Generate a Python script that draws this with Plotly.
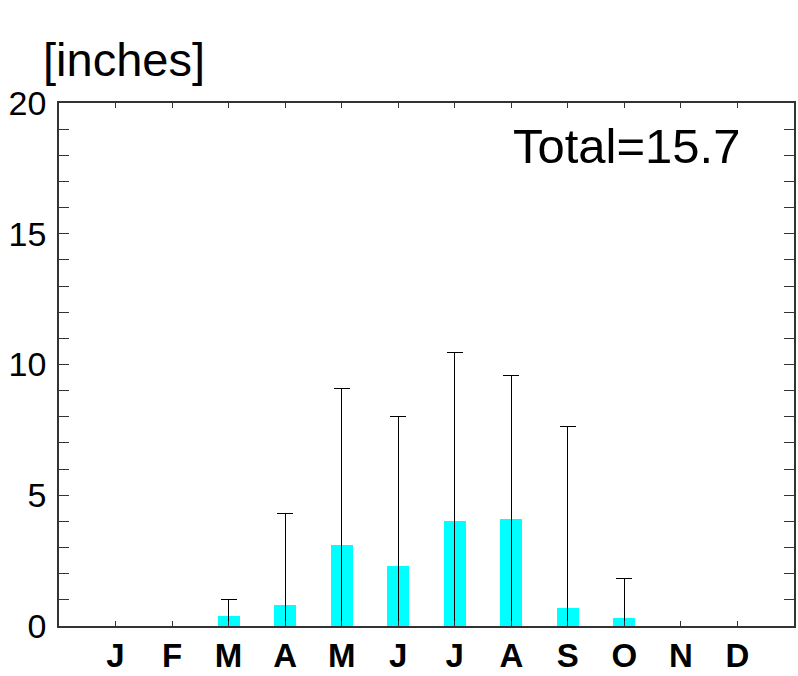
import plotly.graph_objects as go

# Monthly precipitation (inches): mean bar and upper whisker (maximum)
months = ["J", "F", "M", "A", "M", "J", "J", "A", "S", "O", "N", "D"]
month_pos = list(range(1, 13))
mean_precip = [0.0, 0.0, 0.4, 0.8, 3.1, 2.3, 4.0, 4.1, 0.7, 0.3, 0.0, 0.0]
max_precip = [0.0, 0.0, 1.02, 4.3, 9.07, 8.0, 10.46, 9.57, 7.62, 1.83, 0.0, 0.0]
total_label = "Total=15.7"

y_tick_vals = list(range(0, 21))
y_tick_text = [str(v) if v % 5 == 0 else "" for v in y_tick_vals]

FONT = "Liberation Sans, Arial, Helvetica, sans-serif"

# whisker runs from zero up to the maximum
err_plus = [mx - m for m, mx in zip(mean_precip, max_precip)]
err_minus = mean_precip

fig = go.Figure()
fig.add_trace(go.Bar(
    x=month_pos,
    y=mean_precip,
    width=0.39,
    marker=dict(color="#00FFFF", line=dict(width=0)),
    error_y=dict(
        type="data",
        symmetric=False,
        array=err_plus,
        arrayminus=err_minus,
        color="black",
        thickness=1,
        width=8,
    ),
    showlegend=False,
))

axis_common = dict(
    showline=True,
    linecolor="#333333",
    linewidth=1.5,
    mirror="ticks",
    ticks="inside",
    tickcolor="#333333",
    showgrid=False,
    zeroline=False,
)

fig.update_xaxes(
    range=[0, 13],
    tickvals=month_pos,
    ticktext=[f"<b>{m}</b>" for m in months],
    ticklen=5,
    tickwidth=1,
    tickfont=dict(family=FONT, size=33, color="black"),
    **axis_common,
)
fig.update_yaxes(
    range=[0, 20],
    tickvals=y_tick_vals,
    ticktext=y_tick_text,
    ticklen=10,
    tickwidth=1.3,
    tickfont=dict(family=FONT, size=34, color="black"),
    ticklabelstandoff=4,
    **axis_common,
)

fig.add_annotation(
    text="[inches]", xref="paper", yref="paper",
    x=-0.024, y=1.083, xanchor="left", yanchor="middle",
    showarrow=False, font=dict(family=FONT, size=47, color="black"),
)
fig.add_annotation(
    text=total_label, xref="paper", yref="paper",
    x=0.93, y=0.917, xanchor="right", yanchor="middle",
    showarrow=False, font=dict(family=FONT, size=49, color="black"),
)

fig.update_layout(
    width=798, height=676,
    margin=dict(l=59, r=2, t=103, b=48),
    paper_bgcolor="white",
    plot_bgcolor="white",
    bargap=0,
)

fig.write_html("out.html")
